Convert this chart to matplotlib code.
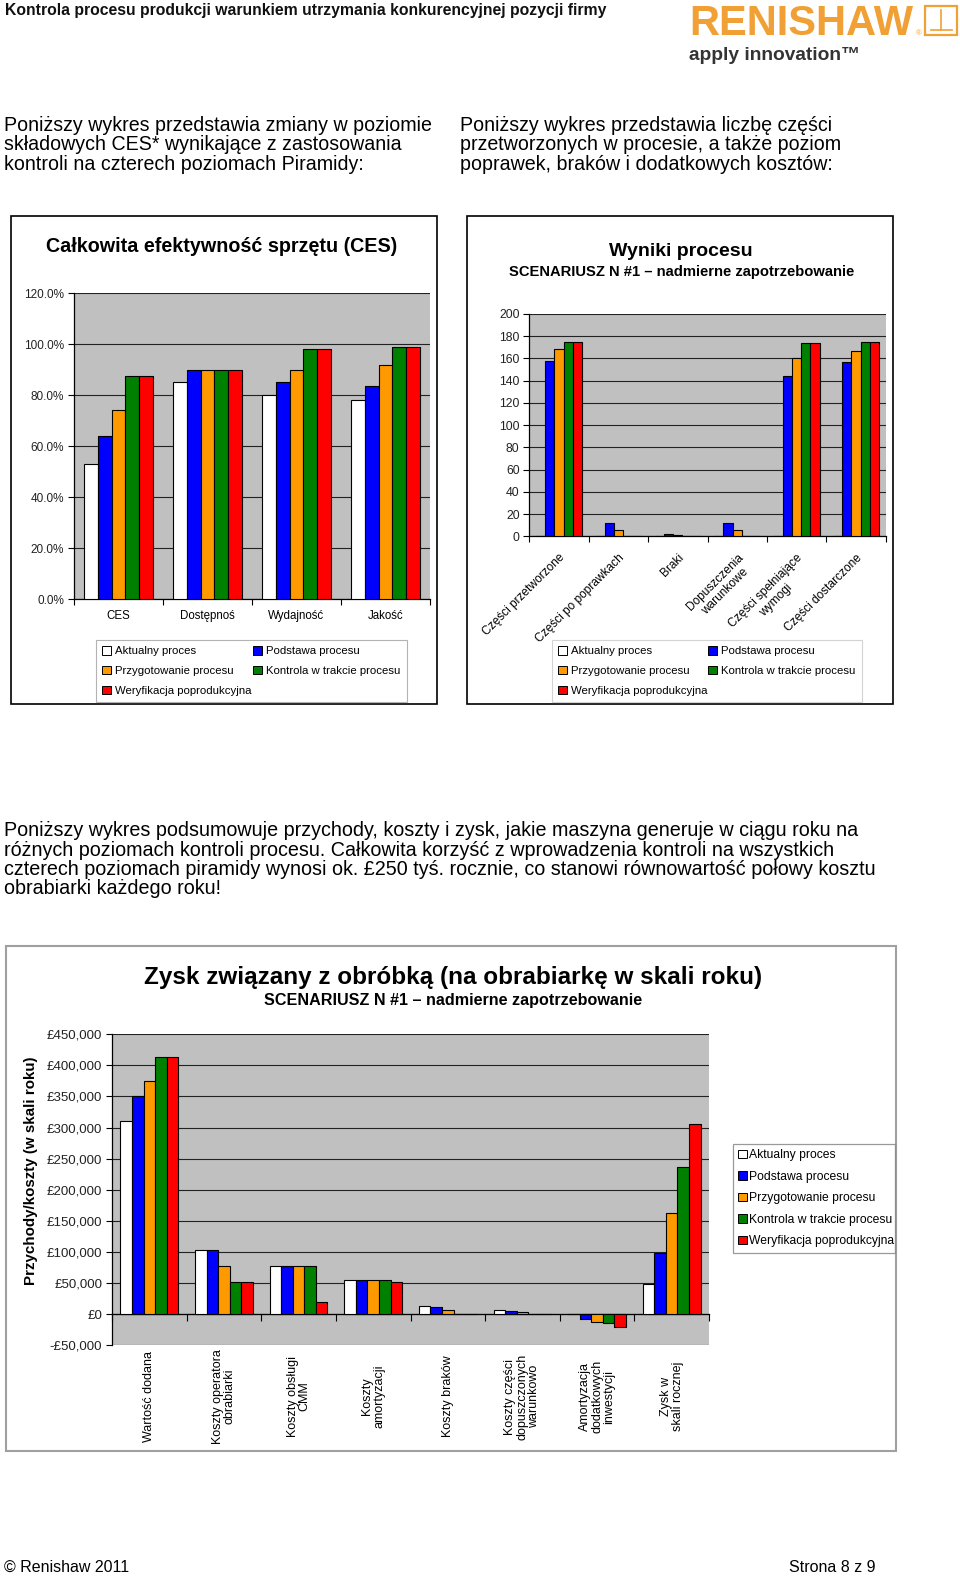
import matplotlib
matplotlib.use('Agg')
import matplotlib.pyplot as plt
from matplotlib.patches import Rectangle
import numpy as np

plt.rcParams['font.family'] = ['Liberation Sans', 'DejaVu Sans']

W, H = 960, 1577

# ---------------- data ----------------
series = ['Aktualny proces', 'Podstawa procesu', 'Przygotowanie procesu',
          'Kontrola w trakcie procesu', 'Weryfikacja poprodukcyjna']
colors = ['#FFFFFF', '#0000FF', '#FF9900', '#008000', '#FF0000']

ces_categories = ['CES', 'Dostępnoś', 'Wydajność', 'Jakość']
ces_aktualny = [53.0, 85.3, 80.0, 78.2]
ces_podstawa = [64.0, 90.0, 85.3, 83.8]
ces_przygotowanie = [74.2, 90.0, 90.0, 91.9]
ces_kontrola = [87.6, 90.0, 98.2, 99.0]
ces_weryfikacja = [87.6, 90.0, 98.2, 99.0]
ces_ticks = [0, 20, 40, 60, 80, 100, 120]
ces_ticklabels = ['0.0%', '20.0%', '40.0%', '60.0%', '80.0%', '100.0%', '120.0%']

wyn_categories = ['Części przetworzone', 'Części po poprawkach', 'Braki',
                  'Dopuszczenia\nwarunkowe', 'Części spełniające\nwymogi',
                  'Części dostarczone']
wyn_aktualny = [0, 0, 0, 0, 0, 0]
wyn_podstawa = [158, 12.3, 2.4, 12.3, 144, 156.4]
wyn_przygotowanie = [168.5, 6, 0.8, 6, 160.6, 167]
wyn_kontrola = [175, 0.5, 0.1, 0.5, 174, 175]
wyn_weryfikacja = [175, 0.5, 0.1, 0.5, 174, 175]
wyn_ticks = [0, 20, 40, 60, 80, 100, 120, 140, 160, 180, 200]

zysk_categories = ['Wartość dodana', 'Koszty operatora\nobrabiarki',
                   'Koszty obsługi\nCMM', 'Koszty\namortyzacji', 'Koszty braków',
                   'Koszty części\ndopuszczonych\nwarunkowo',
                   'Amortyzacja\ndodatkowych\ninwestycji', 'Zysk w\nskali rocznej']
zysk_aktualny = [310000, 103700, 77400, 55400, 13000, 7500, 0, 49000]
zysk_podstawa = [351600, 103700, 77400, 55400, 11000, 5000, -7500, 99000]
zysk_przygotowanie = [375000, 78000, 77400, 55400, 7000, 3000, -12400, 162000]
zysk_kontrola = [413000, 51600, 77400, 55400, 0, 0, -14000, 237000]
zysk_weryfikacja = [413000, 51600, 19400, 52000, 0, 0, -20000, 306000]
zysk_ticks = [-50000, 0, 50000, 100000, 150000, 200000, 250000, 300000, 350000, 400000, 450000]
zysk_ticklabels = ['-£50,000', '£0', '£50,000', '£100,000', '£150,000', '£200,000',
                   '£250,000', '£300,000', '£350,000', '£400,000', '£450,000']

# ---------------- helpers ----------------
fig = plt.figure(figsize=(W / 100, H / 100), dpi=100)
fig.patch.set_facecolor('white')


def fx(x):
    return x / W


def fy(y):
    return 1 - y / H


def add_ax(l, t, r, b):
    return fig.add_axes([l / W, 1 - b / H, (r - l) / W, (b - t) / H])


def frame(l, t, r, b, color, lw):
    fig.patches.append(Rectangle((fx(l), fy(b)), (r - l) / W, (b - t) / H,
                                 transform=fig.transFigure, fill=False,
                                 edgecolor=color, linewidth=lw))


def bars(ax, values_list, width=0.155):
    n = len(values_list[0])
    x = np.arange(n)
    for i, (vals, c) in enumerate(zip(values_list, colors)):
        ax.bar(x + (i - 2) * width, vals, width=width, color=c,
               edgecolor='black', linewidth=0.8, zorder=3)
    ax.set_xlim(-0.5, n - 0.5)
    ax.set_facecolor('#C0C0C0')
    ax.yaxis.grid(True, color='#222222', linewidth=0.8, zorder=1)
    ax.set_axisbelow(True)
    for s in ['top', 'right']:
        ax.spines[s].set_visible(False)
    ax.spines['left'].set_linewidth(0.9)
    ax.spines['bottom'].set_linewidth(0.9)
    ax.set_xticks(x)
    ax.set_xticks(np.arange(n + 1) - 0.5, minor=True)
    ax.tick_params(axis='x', which='major', length=0)
    ax.tick_params(axis='x', which='minor', length=4, width=0.8, direction='out')
    ax.tick_params(axis='y', length=4, width=0.8, direction='out', pad=3)


handles = [Rectangle((0, 0), 1, 1, facecolor=c, edgecolor='black', linewidth=0.7)
           for c in colors]

# ---------------- header ----------------
fig.text(fx(5), fy(15), 'Kontrola procesu produkcji warunkiem utrzymania konkurencyjnej pozycji firmy',
         fontsize=11.3, fontweight='bold', color='#111111', va='baseline', ha='left')
fig.text(fx(689), fy(35), 'RENISHAW', fontsize=30, fontweight='bold', color='#F0A035',
         va='baseline', ha='left')
fig.text(fx(916), fy(35), '®', fontsize=5.5, color='#F0A035', va='baseline', ha='left')
fig.patches.append(Rectangle((fx(925), fy(35)), 32 / W, 29 / H, transform=fig.transFigure,
                             fill=False, edgecolor='#F0A035', linewidth=1.6))
fig.lines.append(plt.Line2D([fx(941), fx(941)], [fy(10), fy(30)], transform=fig.transFigure,
                            color='#F0A035', lw=1.2))
fig.lines.append(plt.Line2D([fx(931), fx(952)], [fy(30), fy(30)], transform=fig.transFigure,
                            color='#F0A035', lw=1.2))
fig.text(fx(689), fy(60), 'apply innovation™', fontsize=13.8, fontweight='bold', color='#333333',
         va='baseline', ha='left')

# ---------------- paragraphs ----------------
left_par = ['Poniższy wykres przedstawia zmiany w poziomie',
            'składowych CES* wynikające z zastosowania',
            'kontroli na czterech poziomach Piramidy:']
right_par = ['Poniższy wykres przedstawia liczbę części',
             'przetworzonych w procesie, a także poziom',
             'poprawek, braków i dodatkowych kosztów:']
for i, (a, b) in enumerate(zip(left_par, right_par)):
    y = 131 + i * 19.5
    fig.text(fx(4), fy(y), a, fontsize=14.1, va='baseline', ha='left')
    fig.text(fx(460), fy(y), b, fontsize=14.1, va='baseline', ha='left')

mid_par = ['Poniższy wykres podsumowuje przychody, koszty i zysk, jakie maszyna generuje w ciągu roku na',
           'różnych poziomach kontroli procesu. Całkowita korzyść z wprowadzenia kontroli na wszystkich',
           'czterech poziomach piramidy wynosi ok. £250 tyś. rocznie, co stanowi równowartość połowy kosztu',
           'obrabiarki każdego roku!']
for i, line in enumerate(mid_par):
    fig.text(fx(4), fy(836 + i * 19.5), line, fontsize=14.2, va='baseline', ha='left')

fig.text(fx(4), fy(1572), '© Renishaw 2011', fontsize=11.5, va='baseline', ha='left')
fig.text(fx(789), fy(1572), 'Strona 8 z 9', fontsize=11.5, va='baseline', ha='left')

# ---------------- chart 1 ----------------
frame(11, 216, 437, 704, 'black', 1.2)
ax1 = add_ax(74, 293.3, 430, 599.3)
bars(ax1, [ces_aktualny, ces_podstawa, ces_przygotowanie, ces_kontrola, ces_weryfikacja])
ax1.set_ylim(0, 120)
ax1.set_yticks(ces_ticks)
ax1.set_yticklabels(ces_ticklabels, fontsize=8.5, color='#222222')
ax1.set_xticklabels(ces_categories, fontsize=8.3)
ax1.tick_params(axis='x', which='major', pad=8)
fig.text(fx(222), fy(247), 'Całkowita efektywność sprzętu (CES)', fontsize=14.2,
         fontweight='bold', ha='center', va='center')
order = [0, 2, 4, 1, 3]
leg1 = fig.legend([handles[i] for i in order], [series[i] for i in order], ncol=2,
                  loc='upper left', bbox_to_anchor=(fx(96), fy(703), 311 / W, 63 / H),
                  mode='expand', fontsize=8.2, frameon=True, fancybox=False,
                  edgecolor='#A0A0A0', handlelength=0.75, handleheight=0.75,
                  handletextpad=0.4, labelspacing=0.85, borderpad=0.55,
                  borderaxespad=0, columnspacing=1.0)
leg1.get_frame().set_linewidth(0.8)

# ---------------- chart 2 ----------------
frame(467, 216, 893, 704, 'black', 1.2)
ax2 = add_ax(529.3, 314, 885.7, 536.3)
bars(ax2, [wyn_aktualny, wyn_podstawa, wyn_przygotowanie, wyn_kontrola, wyn_weryfikacja])
ax2.set_ylim(0, 200)
ax2.set_yticks(wyn_ticks)
ax2.set_yticklabels([str(t) for t in wyn_ticks], fontsize=8.8, color='#222222')
ax2.set_xticklabels(wyn_categories, fontsize=8.6, rotation=45, ha='right',
                    rotation_mode='anchor', multialignment='center')
ax2.tick_params(axis='x', which='major', pad=11)
fig.text(fx(681), fy(252), 'Wyniki procesu', fontsize=14, fontweight='bold',
         ha='center', va='center')
fig.text(fx(681.5), fy(272), 'SCENARIUSZ N #1 – nadmierne zapotrzebowanie', fontsize=10.6,
         fontweight='bold', ha='center', va='center')
leg2 = fig.legend([handles[i] for i in order], [series[i] for i in order], ncol=2,
                  loc='upper left', bbox_to_anchor=(fx(552), fy(703), 310 / W, 63 / H),
                  mode='expand', fontsize=8.2, frameon=True, fancybox=False,
                  edgecolor='#C8C8C8', handlelength=0.75, handleheight=0.75,
                  handletextpad=0.4, labelspacing=0.85, borderpad=0.55,
                  borderaxespad=0, columnspacing=1.0)
leg2.get_frame().set_linewidth(0.8)

# ---------------- chart 3 ----------------
frame(6, 946, 896, 1451, '#A0A0A0', 1.5)
ax3 = add_ax(112, 1034.3, 709, 1345.3)
bars(ax3, [zysk_aktualny, zysk_podstawa, zysk_przygotowanie, zysk_kontrola, zysk_weryfikacja])
ax3.set_ylim(-50000, 450000)
ax3.set_yticks(zysk_ticks)
ax3.set_yticklabels(zysk_ticklabels, fontsize=9.5, color='#222222')
ax3.spines['bottom'].set_position(('data', 0))
ax3.set_xticklabels([])
ax3.tick_params(axis='x', which='minor', length=5)
xt = ax3.get_xaxis_transform()
for i, lab in enumerate(zysk_categories):
    ax3.text(i, -0.165, lab, transform=xt, rotation=90, ha='center', va='center',
             multialignment='center', fontsize=9, linespacing=1.0)
fig.text(fx(453), fy(977), 'Zysk związany z obróbką (na obrabiarkę w skali roku)',
         fontsize=17.5, fontweight='bold', ha='center', va='center')
fig.text(fx(452.6), fy(1000), 'SCENARIUSZ N #1 – nadmierne zapotrzebowanie', fontsize=11.6,
         fontweight='bold', ha='center', va='center')
fig.text(fx(31), fy(1171), 'Przychody/koszty (w skali roku)', fontsize=10.9, fontweight='bold',
         rotation=90, ha='center', va='center')
leg3 = fig.legend(handles, series, ncol=1, loc='upper left',
                  bbox_to_anchor=(fx(733), fy(1250), 162 / W, 106 / H), mode='expand',
                  fontsize=8.7, frameon=True, fancybox=False, edgecolor='#808080',
                  handlelength=0.7, handleheight=0.7, handletextpad=0.2,
                  labelspacing=0.78, borderpad=0.45, borderaxespad=0)
leg3.get_frame().set_linewidth(0.9)

fig.savefig('out.png', dpi=100, facecolor='white')
